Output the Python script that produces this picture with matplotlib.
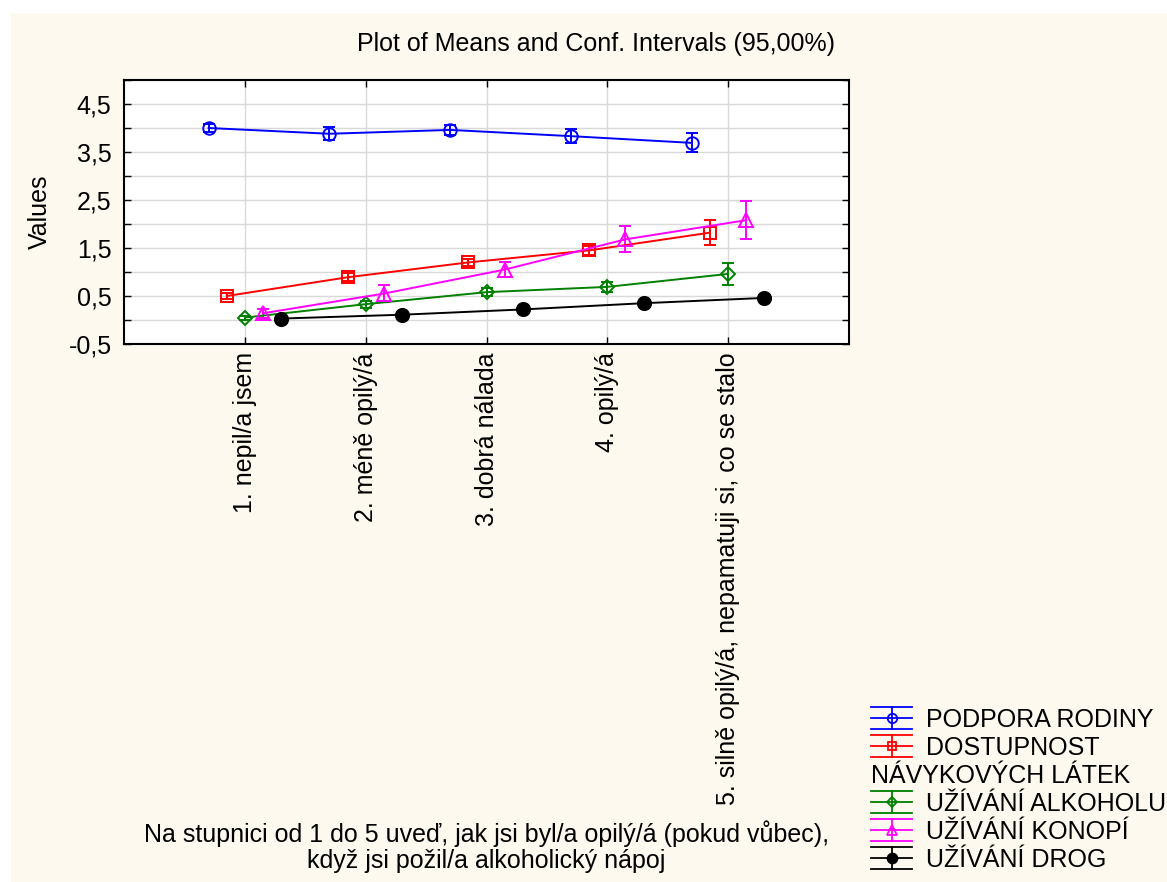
import matplotlib.pyplot as plt
import matplotlib.transforms as mtransforms
import numpy as np
from matplotlib.legend_handler import HandlerBase
from matplotlib.lines import Line2D
from matplotlib.patches import Patch, Rectangle
from matplotlib.ticker import FuncFormatter, MultipleLocator

plt.rcParams['font.family'] = ['Liberation Sans', 'DejaVu Sans']

categories = ['1. nepil/a jsem', '2. méně opilý/á', '3. dobrá nálada', '4. opilý/á',
              '5. silně opilý/á, nepamatuji si, co se stalo']

podpora_mean = [4.00, 3.88, 3.96, 3.83, 3.69]
podpora_ci = [0.08, 0.14, 0.10, 0.14, 0.20]
dostupnost_mean = [0.50, 0.89, 1.20, 1.45, 1.82]
dostupnost_ci = [0.07, 0.08, 0.08, 0.10, 0.26]
alkohol_mean = [0.05, 0.33, 0.58, 0.69, 0.96]
alkohol_ci = [0.04, 0.07, 0.08, 0.11, 0.23]
konopi_mean = [0.14, 0.55, 1.05, 1.68, 2.08]
konopi_ci = [0.09, 0.18, 0.16, 0.27, 0.39]
drogy_mean = [0.03, 0.11, 0.22, 0.35, 0.46]
drogy_ci = [0.02, 0.03, 0.04, 0.05, 0.06]

series = [
    ('PODPORA RODINY', podpora_mean, podpora_ci, '#0000ff', 'o', 'none', 9, -0.30),
    ('DOSTUPNOST', dostupnost_mean, dostupnost_ci, '#ff0000', 's', 'none', 8.5, -0.15),
    ('UŽÍVÁNÍ ALKOHOLU', alkohol_mean, alkohol_ci, '#008000', 'D', 'none', 7, 0.0),
    ('UŽÍVÁNÍ KONOPÍ', konopi_mean, konopi_ci, '#ff00ff', '^', 'none', 9.5, 0.15),
    ('UŽÍVÁNÍ DROG', drogy_mean, drogy_ci, '#000000', 'o', '#000000', 9.5, 0.30),
]

FS = 18


class ErrLegend(HandlerBase):
    def create_artists(self, legend, orig, xdescent, ydescent, width, height, fontsize, trans):
        x0, x1 = -xdescent, -xdescent + width
        xc = (x0 + x1) / 2
        yc = height / 2 - ydescent
        h = 8.0
        c = orig.get_color()
        arts = [Line2D([x0, x1], [y, y], color=c, lw=1.3, transform=trans)
                for y in (yc - h, yc, yc + h)]
        arts.append(Line2D([xc, xc], [yc - h, yc + h], color=c, lw=1.3, transform=trans))
        arts.append(Line2D([xc], [yc], marker=orig.get_marker(), ls='none',
                           markersize=orig.get_markersize() * 0.75,
                           mfc=orig.get_markerfacecolor(), mec=c, mew=1.3,
                           transform=trans))
        return arts


fig = plt.figure(figsize=(11.67, 8.82), dpi=100, facecolor='white')
fig.patches.append(Rectangle((11 / 1167, 0), 1, 1 - 13 / 882, transform=fig.transFigure,
                             facecolor='#fdf9ee', edgecolor='none', zorder=-10))
ax = fig.add_axes([124 / 1167, 1 - 344 / 882, 725 / 1167, 264 / 882])
ax.set_facecolor('white')

x = np.arange(1, 6)
handles = []
for label, mean, ci, color, marker, mfc, ms, off in series:
    ax.errorbar(x + off, mean, yerr=ci, color=color, marker=marker, mfc=mfc, mec=color,
                ms=ms, mew=1.4, lw=1.4, elinewidth=1.4, capsize=4.3, capthick=1.4, zorder=3)
    handles.append(Line2D([], [], color=color, marker=marker, mfc=mfc, ms=ms))

ax.set_xlim(0, 6)
ax.set_ylim(-0.5, 5.0)
ax.set_xticks(x)
ax.set_xticklabels(categories, rotation=90, va='top', ha='center')
ax.yaxis.set_major_locator(MultipleLocator(1.0, offset=0.5))
ax.yaxis.set_minor_locator(MultipleLocator(1.0))
ax.yaxis.set_major_formatter(FuncFormatter(lambda v, p: f'{v:.1f}'.replace('.', ',')))
ax.grid(True, which='both', color='#d9d9d9', lw=1.0)
ax.set_axisbelow(True)
ax.tick_params(which='both', direction='in', top=True, right=True, length=5,
               width=1, labelsize=FS)
ax.tick_params(axis='x', pad=6)
ax.tick_params(axis='y', pad=9)
for s in ax.spines.values():
    s.set_linewidth(1.5)

ax.set_ylabel('Values', fontsize=FS, labelpad=12)
ax.set_xlabel('Na stupnici od 1 do 5 uveď, jak jsi byl/a opilý/á (pokud vůbec),\n'
              'když jsi požil/a alkoholický nápoj', fontsize=FS, labelpad=11, linespacing=1.1)

fig.text(596 / 1167, 1 - 44 / 882, 'Plot of Means and Conf. Intervals (95,00%)',
         ha='center', va='center', fontsize=FS)

leg_handles = handles[:2] + [Patch(facecolor='none', edgecolor='none')] + handles[2:]
leg_labels = ['PODPORA RODINY', 'DOSTUPNOST', 'NÁVYKOVÝCH LÁTEK', 'UŽÍVÁNÍ ALKOHOLU',
              'UŽÍVÁNÍ KONOPÍ', 'UŽÍVÁNÍ DROG']
hl, htp = 1.65, 0.55
leg = fig.legend(leg_handles, leg_labels, loc='upper left',
                 bbox_to_anchor=(871 / 1167, 1 - 708 / 882), borderaxespad=0, borderpad=0,
                 frameon=False, handlelength=hl, handletextpad=htp, labelspacing=0.16,
                 fontsize=FS, handler_map={Line2D: ErrLegend()})
shift = (hl + htp) * FS * fig.dpi / 72
t = leg.get_texts()[2]
t.set_transform(t.get_transform() + mtransforms.Affine2D().translate(-shift, 0))

fig.savefig('out.png', dpi=100, facecolor=fig.get_facecolor())
